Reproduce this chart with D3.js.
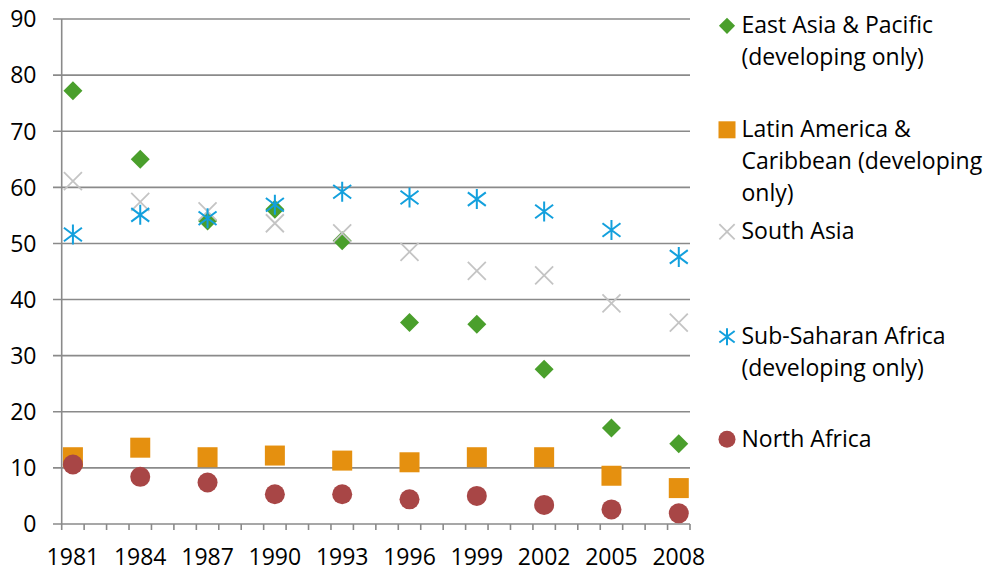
<!DOCTYPE html>
<html><head><meta charset="utf-8">
<script src="https://cdn.jsdelivr.net/npm/d3@7"></script>
<style>body{margin:0;background:#fff}svg{display:block}text{font-family:"Open Sans",sans-serif;fill:#000}</style>
</head><body><svg id="c" width="989" height="571"></svg>
<script>
const years = d3.range(1981, 2009);
const dataYears = [1981,1984,1987,1990,1993,1996,1999,2002,2005,2008];
const tickLabels = ["1981","1984","1987","1990","1993","1996","1999","2002","2005","2008"];
const yTicks = [0,10,20,30,40,50,60,70,80,90];
const eastAsia = [77.2,65.0,54.0,56.1,50.5,35.9,35.6,27.6,17.1,14.3];
const latinAmerica = [11.9,13.6,11.9,12.2,11.3,11.0,11.9,11.9,8.6,6.4];
const southAsia = [61.1,57.4,55.7,53.6,51.8,48.5,45.1,44.3,39.3,35.9];
const subSaharan = [51.6,55.1,54.5,56.9,59.2,58.2,57.9,55.7,52.4,47.6];
const northAfrica = [10.6,8.4,7.4,5.3,5.3,4.4,5.0,3.4,2.6,1.9];
const seriesNames = [
  ["East Asia & Pacific","(developing only)"],
  ["Latin America &","Caribbean (developing","only)"],
  ["South Asia"],
  ["Sub-Saharan Africa","(developing only)"],
  ["North Africa"]
];

(function(){
const series = [
  {name: seriesNames[0], values: eastAsia, shape: "diamond", color: "#4a9f2c"},
  {name: seriesNames[1], values: latinAmerica, shape: "square", color: "#e5900f"},
  {name: seriesNames[2], values: southAsia, shape: "x", color: "#c4c4c4"},
  {name: seriesNames[3], values: subSaharan, shape: "star", color: "#13a0dd"},
  {name: seriesNames[4], values: northAfrica, shape: "circle", color: "#a84646"}
];

const svg = d3.select("#c");
const pLeft = 61.7, pRight = 690, pTop = 19, pBottom = 524;
const fs = "23px";
const x = d3.scaleBand().domain(years).range([pLeft, pRight]).paddingInner(0).paddingOuter(0);
const y = d3.scaleLinear().domain([0, 90]).range([pBottom, pTop]);
const cx = yr => x(yr) + x.bandwidth() / 2;
const axisColor = "#8a8a8a";

svg.append("g").selectAll("line").data(yTicks).join("line")
  .attr("x1", 53).attr("x2", pRight)
  .attr("y1", d => y(d)).attr("y2", d => y(d))
  .attr("stroke", axisColor).attr("stroke-width", 1.6);

svg.append("line").attr("x1", pLeft).attr("x2", pLeft).attr("y1", pTop).attr("y2", pBottom + 6)
  .attr("stroke", axisColor).attr("stroke-width", 1.6);

const bounds = years.map(d => x(d)).concat([pRight]);
svg.append("g").selectAll("line").data(bounds.slice(1)).join("line")
  .attr("x1", d => d).attr("x2", d => d).attr("y1", pBottom).attr("y2", pBottom + 6)
  .attr("stroke", axisColor).attr("stroke-width", 1.6);

svg.append("g").selectAll("text").data(yTicks).join("text")
  .attr("x", 36.5).attr("y", d => y(d) + 8.3).attr("text-anchor", "end")
  .style("font-size", fs).text(d => d);

svg.append("g").selectAll("text").data(dataYears).join("text")
  .attr("x", d => cx(d)).attr("y", 564.5).attr("text-anchor", "middle")
  .style("font-size", fs).text((d, i) => tickLabels[i]);

function drawMarker(g, shape, color, s) {
  if (shape === "diamond") {
    const r = 9.5 * s;
    g.append("path").attr("d", `M0,${-r}L${r},0L0,${r}L${-r},0Z`).attr("fill", color);
  } else if (shape === "square") {
    const h = 10 * s;
    g.append("rect").attr("x", -h).attr("y", -h).attr("width", 2 * h).attr("height", 2 * h).attr("fill", color);
  } else if (shape === "circle") {
    g.append("circle").attr("r", 10 * s).attr("fill", color);
  } else if (shape === "x") {
    const r = 9 * s;
    g.append("path").attr("d", `M${-r},${-r}L${r},${r}M${-r},${r}L${r},${-r}`)
      .attr("stroke", color).attr("stroke-width", 1.8).attr("fill", "none");
  } else if (shape === "star") {
    const r = 9 * s, v = 10 * s;
    g.append("path").attr("d", `M${-r},${-r * 0.75}L${r},${r * 0.75}M${-r},${r * 0.75}L${r},${-r * 0.75}M0,${-v}L0,${v}`)
      .attr("stroke", color).attr("stroke-width", 2).attr("fill", "none");
  }
}

series.forEach(s => {
  const g = svg.append("g");
  dataYears.forEach((yr, i) => {
    const m = g.append("g").attr("transform", `translate(${cx(yr)},${y(s.values[i])})`);
    drawMarker(m, s.shape, s.color, 1);
  });
});

const legendBase = [33.3, 137.3, 239.3, 344.3, 446.7];
const lineH = 31.8;
series.forEach((s, i) => {
  const g = svg.append("g");
  const m = g.append("g").attr("transform", `translate(727,${legendBase[i] - 7.5})`);
  drawMarker(m, s.shape, s.color, 0.85);
  s.name.forEach((ln, j) => {
    g.append("text").attr("x", 741.5).attr("y", legendBase[i] + j * lineH)
      .style("font-size", fs).text(ln);
  });
});
})();
</script></body></html>
